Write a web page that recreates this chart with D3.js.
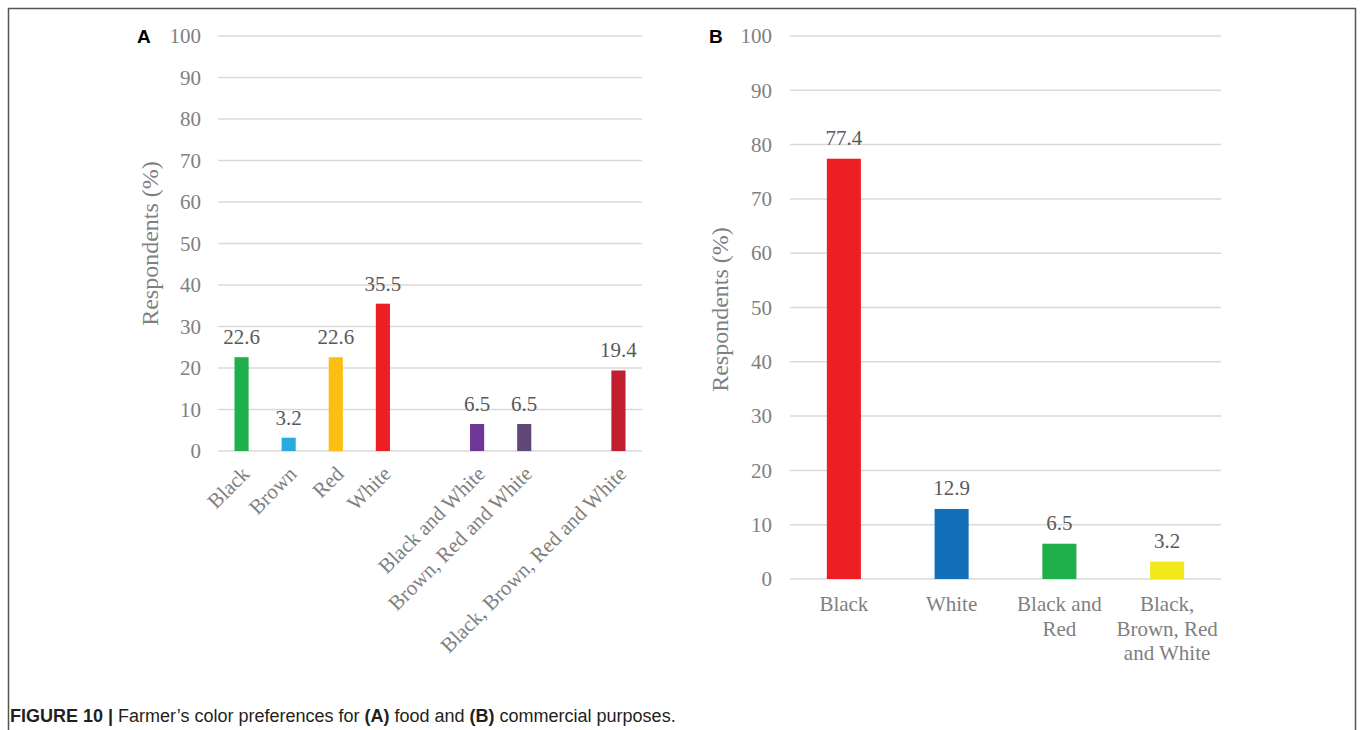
<!DOCTYPE html>
<html><head><meta charset="utf-8">
<script src="https://cdn.jsdelivr.net/npm/d3@7"></script>
<style>
body{margin:0;background:#fff;}
svg{display:block;}
</style></head>
<body>
<svg id="c" width="1360" height="730"></svg>
<script>
// Panel A data (food)
const catsA = ["Black","Brown","Red","White","","Black and White","Brown, Red and White"," ","Black, Brown, Red and White"];
const valsA = [22.6, 3.2, 22.6, 35.5, null, 6.5, 6.5, null, 19.4];
const colorsA = ["#1fb04b","#29abe2","#fbbf12","#ee1f24",null,"#6f3795","#5f4778",null,"#be1e2d"];
// Panel B data (commercial)
const catsB = ["Black","White","Black and Red","Black, Brown, Red and White"];
const labelsB = [["Black"],["White"],["Black and","Red"],["Black,","Brown, Red","and White"]];
const valsB = [77.4, 12.9, 6.5, 3.2];
const colorsB = ["#ee1f24","#1170b9","#1fb04b","#f2e81b"];
const yTicks = [0,10,20,30,40,50,60,70,80,90,100];

const svg = d3.select("#c");
const serif = "'Liberation Serif','Times New Roman',serif";
const sans = "'Liberation Sans',Arial,sans-serif";

// frame
svg.append("path").attr("d","M8.5,730 V8.5 H1355.5 V730")
  .attr("fill","none").attr("stroke","#555").attr("stroke-width",1.5);

function panel(opt){
  const g = svg.append("g");
  const x = d3.scaleBand().domain(opt.cats).range([opt.x0,opt.x1]).paddingInner(opt.pad).paddingOuter(opt.pad/2);
  const y = d3.scaleLinear().domain([0,100]).range([opt.y0,opt.y1]);
  // gridlines
  g.append("g").selectAll("line").data(yTicks).join("line")
    .attr("x1",opt.x0).attr("x2",opt.x1)
    .attr("y1",d=>y(d)).attr("y2",d=>y(d))
    .attr("stroke","#d9d9d9").attr("stroke-width",1.5);
  // y axis labels
  const ya = g.append("g").attr("transform",`translate(${opt.tickX},0)`)
    .call(d3.axisLeft(y).tickValues(yTicks).tickSize(0).tickPadding(0));
  ya.select(".domain").remove();
  ya.selectAll("text").attr("font-family",serif).attr("font-size",21).attr("fill","#808080");
  // bars
  const data = opt.cats.map((c,i)=>({c,v:opt.vals[i],col:opt.colors[i]})).filter(d=>d.v!=null);
  g.append("g").selectAll("rect").data(data).join("rect")
    .attr("x",d=>x(d.c)).attr("width",x.bandwidth())
    .attr("y",d=>y(d.v)).attr("height",d=>y(0)-y(d.v))
    .attr("fill",d=>d.col);
  // value labels
  g.append("g").selectAll("text").data(data).join("text")
    .attr("x",d=>x(d.c)+x.bandwidth()/2).attr("y",d=>y(d.v)-opt.lblGap)
    .attr("text-anchor","middle").attr("font-family",serif).attr("font-size",21).attr("fill","#595959")
    .text(d=>d.v.toFixed(1));
  // y title
  g.append("text").attr("transform",`translate(${opt.titleX},${opt.titleY}) rotate(-90)`)
    .attr("text-anchor","middle").attr("font-family",serif).attr("font-size",24).attr("fill","#808080")
    .text("Respondents (%)");
  // panel letter
  g.append("text").attr("x",opt.letterX).attr("y",opt.y1+6.5)
    .attr("font-family",sans).attr("font-weight","bold").attr("font-size",19).attr("fill","#000")
    .text(opt.letter);
  return {g,x,y};
}

// Panel A
const A = panel({cats:catsA, vals:valsA, colors:colorsA, x0:218, x1:642, y0:451, y1:36, pad:0.7,
  tickX:201, titleX:158, titleY:243.5, letterX:137, letter:"A", lblGap:13});
A.g.append("g").selectAll("text").data(catsA.filter(c=>c.trim()!=="")).join("text")
  .attr("transform",d=>`translate(${A.x(d)+A.x.bandwidth()/2+4},${470}) rotate(-45)`)
  .attr("text-anchor","end").attr("font-family",serif).attr("font-size",21).attr("fill","#808080")
  .attr("dy","0.35em")
  .text(d=>d);

// Panel B
const B = panel({cats:catsB, vals:valsB, colors:colorsB, x0:790, x1:1221, y0:579, y1:36, pad:0.684,
  tickX:772, titleX:728, titleY:309.5, letterX:709, letter:"B", lblGap:14});
B.g.append("g").selectAll("text").data(catsB).join("text")
  .attr("x",d=>B.x(d)+B.x.bandwidth()/2).attr("y",611)
  .attr("text-anchor","middle").attr("font-family",serif).attr("font-size",21).attr("fill","#808080")
  .each(function(d,i){
    d3.select(this).selectAll("tspan").data(labelsB[i]).join("tspan")
      .attr("x",B.x(d)+B.x.bandwidth()/2).attr("dy",(t,j)=>j===0?0:24.5).text(t=>t);
  });

// caption
const cap = svg.append("text").attr("x",10).attr("y",722)
  .attr("font-family",sans).attr("font-size",18).attr("fill","#231f20");
cap.append("tspan").attr("font-weight","bold").text("FIGURE 10 | ");
cap.append("tspan").text("Farmer’s color preferences for ");
cap.append("tspan").attr("font-weight","bold").text("(A)");
cap.append("tspan").text(" food and ");
cap.append("tspan").attr("font-weight","bold").text("(B)");
cap.append("tspan").text(" commercial purposes.");
</script>
</body></html>
